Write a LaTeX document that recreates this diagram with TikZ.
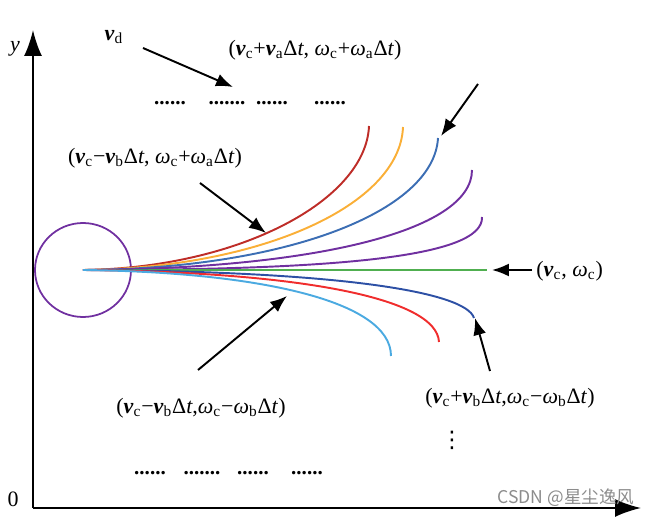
\documentclass[tikz,border=0pt]{standalone}
\usepackage{fontspec}
\setmainfont{Liberation Serif}
\newfontfamily\cjk{Noto Sans CJK SC}
\newfontfamily\symf{DejaVu Sans}
\usetikzlibrary{arrows.meta,calc}
\definecolor{trdred}{RGB}{190,45,40}
\definecolor{trorange}{RGB}{250,175,55}
\definecolor{trblue}{RGB}{60,110,180}
\definecolor{trpurple}{RGB}{112,48,160}
\definecolor{trgreen}{RGB}{80,175,80}
\definecolor{trnavy}{RGB}{45,80,165}
\definecolor{trred}{RGB}{240,45,45}
\definecolor{trsky}{RGB}{75,170,225}
\newcommand{\vv}[1]{\textbf{\textit{v}}\textsubscript{#1}}
\newcommand{\wv}[1]{\textit{ω}\textsubscript{#1}}
\newcommand{\dt}{Δ\textit{t}}

\begin{document}
\begin{tikzpicture}[x=0.02cm,y=-0.02cm,
    txt/.style={font=\fontsize{12.5}{14}\selectfont,inner sep=0pt},
    dots/.style={font=\bfseries\fontsize{12}{14}\selectfont,inner sep=0pt},
    traj/.style={line width=1.1pt},
    pointer/.style={line width=1.1pt,-{Latex[length=3.4mm,width=2.6mm]}},
    axis/.style={line width=1.1pt,-{Latex[length=5.2mm,width=3.6mm]}}]
  \useasboundingbox (0,0) rectangle (650,520);
  % axes
    \coordinate (O) at (33,508);
    \coordinate (ytip) at (33,30);
    \coordinate (xtip) at (641,508);
    \draw[axis] (O)--(ytip);
    \draw[axis] (O)--(xtip);
    \node[txt] (ylab) at (15,49){\textit{y}};
    \node[txt] (zero) at (13,499){0};
  % robot
    \coordinate (S) at (83,270);
    \draw[trpurple,line width=1pt] (S) ellipse (48 and 47);
  % trajectories
    \draw[traj,trdred] (S) .. controls (240,268) and (366,200) .. (369,126);
    \draw[traj,trorange] (S) .. controls (262,268) and (400,205) .. (403,127);
    \draw[traj,trblue] (S) .. controls (285,269) and (434,212) .. (438,138);
    \draw[traj,trpurple] (S) .. controls (310,269) and (472,232) .. (472,170);
    \draw[traj,trpurple] (S) .. controls (330,270) and (484,258) .. (482,217);
    \draw[traj,trgreen] (S)--(487,270);
    \draw[traj,trnavy] (S) .. controls (340,271) and (466,292) .. (474,318);
    \draw[traj,trred] (S) .. controls (300,272) and (437,298) .. (439,342);
    \draw[traj,trsky] (S) .. controls (255,272) and (391,300) .. (391,356);
  % labels
    \node[txt] (vd) at (114,37){\vv{d}};
    \node[txt] (upper) at (315,50){(\vv{c}+\vv{a}\dt, \wv{c}+\wv{a}\dt)};
    \node[txt] (leftup) at (155,158){(\vv{c}−\vv{b}\dt, \wv{c}+\wv{a}\dt)};
    \node[txt,anchor=west] (mid) at (536,271){(\vv{c}, \wv{c})};
    \node[txt] (leftlow) at (201,408){(\vv{c}−\vv{b}\dt,\wv{c}−\wv{b}\dt)};
    \node[txt] (rightlow) at (510,398){(\vv{c}+\vv{b}\dt,\wv{c}−\wv{b}\dt)};
    \node[font=\symf\fontsize{13}{14}\selectfont,inner sep=0pt] (vdots) at (452,440){⋮};
  % dotted rows
    \node[dots] (d1) at (170,103){......};
    \node[dots] (d2) at (227,103){.......};
    \node[dots] (d3) at (272,103){......};
    \node[dots] (d4) at (330,103){......};
    \node[dots] (e1) at (150,473){......};
    \node[dots] (e2) at (202,473){.......};
    \node[dots] (e3) at (253,473){......};
    \node[dots] (e4) at (307,473){......};
  % pointers
    \coordinate (p0) at (143,48);   \coordinate (q0) at (233,87);
    \coordinate (p1) at (478,84);   \coordinate (q1) at (441,136);
    \coordinate (p2) at (200,183);  \coordinate (q2) at (266,233);
    \coordinate (p3) at (532,270);  \coordinate (q3) at (492,270);
    \coordinate (p4) at (198,370);  \coordinate (q4) at (287,296);
    \coordinate (p5) at (490,371);  \coordinate (q5) at (475,318);
    \foreach \i in {0,...,5}
      \draw[pointer] (p\i)--(q\i);
    \node[txt,font=\cjk\fontsize{10}{12}\selectfont,text=black!45] (wm) at (566,498){CSDN @星尘逸风};
\end{tikzpicture}
\end{document}
